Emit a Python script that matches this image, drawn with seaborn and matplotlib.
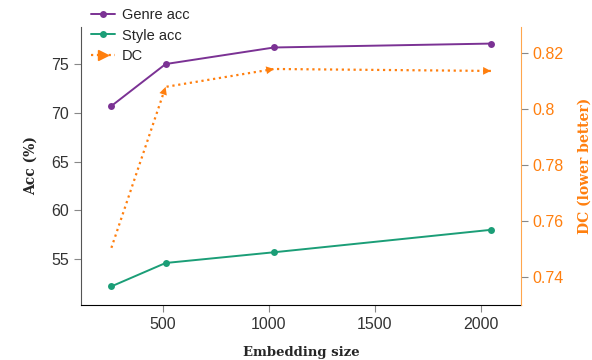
import seaborn as sns
import matplotlib.pyplot as plt
import pandas as pd
from matplotlib.lines import Line2D

# data
emb_size = [256, 512, 1024, 2048]
genre_acc = [70.7, 75.0, 76.7, 77.1]
style_acc = [52.2, 54.6, 55.7, 58.0]
dc_score = [0.7504, 0.8079, 0.8143, 0.8136]

purple = '#7b3294'
green = '#1b9e77'
orange = '#ff7f0e'

sns.set_style("ticks")
plt.rcParams['font.family'] = ['Liberation Sans', 'DejaVu Sans']

df = pd.DataFrame({'size': emb_size, 'genre': genre_acc, 'style': style_acc, 'dc': dc_score})

fig = plt.figure(figsize=(5.92, 3.6), dpi=100)
ax = fig.add_axes([0.137, 0.153, 0.743, 0.772])

sns.lineplot(data=df, x='size', y='genre', ax=ax, color=purple, marker='o',
             markersize=5, markeredgewidth=0, linewidth=1.4, label='Genre acc')
sns.lineplot(data=df, x='size', y='style', ax=ax, color=green, marker='o',
             markersize=5, markeredgewidth=0, linewidth=1.4, label='Style acc')

ax2 = ax.twinx()
sns.lineplot(data=df, x='size', y='dc', ax=ax2, color=orange, linestyle=':',
             linewidth=1.6, legend=False)
# arrow heads at the end of each segment
for i in range(1, len(emb_size)):
    ax2.annotate('', xy=(emb_size[i], dc_score[i]), xytext=(emb_size[i - 1], dc_score[i - 1]),
                 arrowprops=dict(arrowstyle='-|>', color=orange, lw=0, mutation_scale=14,
                                 shrinkA=0, shrinkB=0))

ax.set_xlim(113, 2190)
ax.set_ylim(50.3, 78.8)
ax2.set_ylim(0.73, 0.8293)
ax.set_xticks([500, 1000, 1500, 2000])
ax.set_yticks([55, 60, 65, 70, 75])
ax2.set_yticks([0.74, 0.76, 0.78, 0.80, 0.82])
ax2.set_yticklabels(['0.74', '0.76', '0.78', '0.8', '0.82'])

ax.set_xlabel('Embedding size', fontfamily='DejaVu Serif', fontweight='bold', fontsize=9.5, labelpad=10)
ax.set_ylabel('Acc (%)', fontfamily='DejaVu Serif', fontweight='bold', fontsize=10, labelpad=10)
ax2.set_ylabel('DC (lower better)', fontfamily='DejaVu Serif', fontweight='bold', fontsize=10,
               color=orange, labelpad=10)

ax.tick_params(axis='both', labelsize=11.5, colors='#888888', labelcolor='#333333', length=5)
ax2.tick_params(axis='y', labelsize=11.5, colors='#888888', labelcolor=orange, length=5)

for a in (ax, ax2):
    a.spines['top'].set_visible(False)
ax.spines['right'].set_visible(False)
ax.spines['left'].set_color('#555555')
ax.spines['bottom'].set_color('black')
ax2.spines['left'].set_visible(False)
ax2.spines['bottom'].set_visible(False)
ax2.spines['right'].set_color('#ffa64d')

# combined legend
h1, l1 = ax.get_legend_handles_labels()
h1.append(Line2D([], [], color=orange, linestyle=':', linewidth=1.6, marker='>', markersize=7))
l1.append('DC')
ax.legend(h1, l1, loc='upper left', bbox_to_anchor=(0.0, 1.105), frameon=False,
          fontsize=10.5, handlelength=1.6, handletextpad=0.5, labelspacing=0.45, borderpad=0.2)

plt.savefig('out.png', dpi=100)
